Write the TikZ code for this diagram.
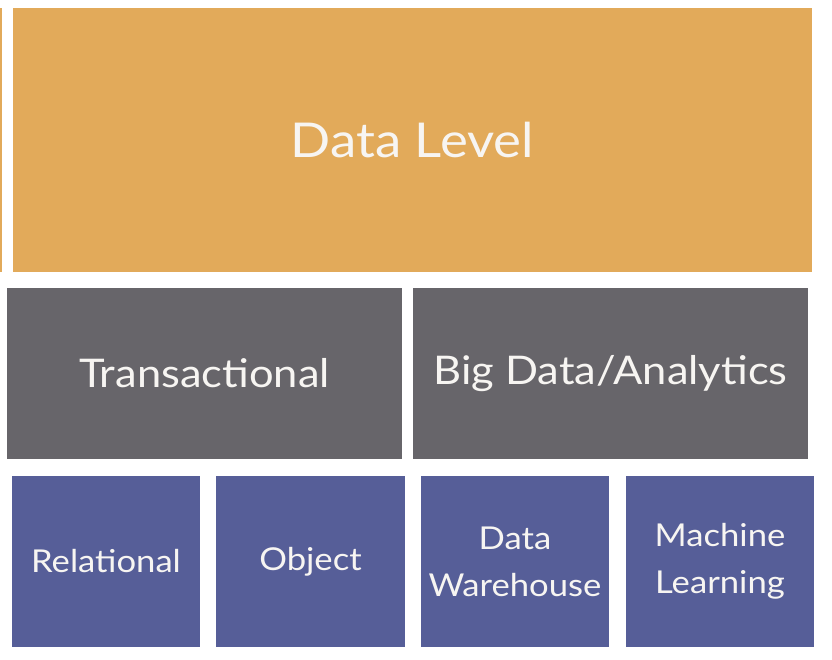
\documentclass[tikz,border=0pt]{standalone}
\usepackage{fontspec}
\setmainfont{Lato}[FakeStretch=1.1]
\definecolor{orangebox}{HTML}{E2AA5A}
\definecolor{graybox}{HTML}{67656A}
\definecolor{bluebox}{HTML}{565E98}
\definecolor{txt}{HTML}{F7F5F2}
\tikzset{
  box/.style={rectangle, inner sep=0pt, text=txt, align=center},
  lvl/.style={box, fill=orangebox, minimum width=799pt, minimum height=264pt, font=\fontsize{48}{54}\selectfont},
  cat/.style={box, fill=graybox, minimum width=395pt, minimum height=171pt, font=\fontsize{39.5}{46}\selectfont},
  kind/.style={box, fill=bluebox, minimum height=171pt, font=\fontsize{31.5}{47}\selectfont},
}
\begin{document}
\begin{tikzpicture}[x=1pt,y=-1pt]
\useasboundingbox (0,0) rectangle (832,660);
\fill[orangebox] (0,8) rectangle (2,272);
\node[lvl] (data) at (412.5,140) {Data Level};
\node[cat] (trans) at (204.5,373.5) {Transactional};
\node[cat] (big) at (610.5,373.5) {Big Data/Analytics};
\node[kind, minimum width=188pt] (rel) at (106,561.5) {Relational};
\node[kind, minimum width=189pt] (obj) at (310.5,561.5) {Object};
\node[kind, minimum width=188pt] (dw) at (515,561.5) {Data\\Warehouse};
\node[kind, minimum width=188pt] (ml) at (720,561.5) {Machine\\Learning};
\end{tikzpicture}
\end{document}
